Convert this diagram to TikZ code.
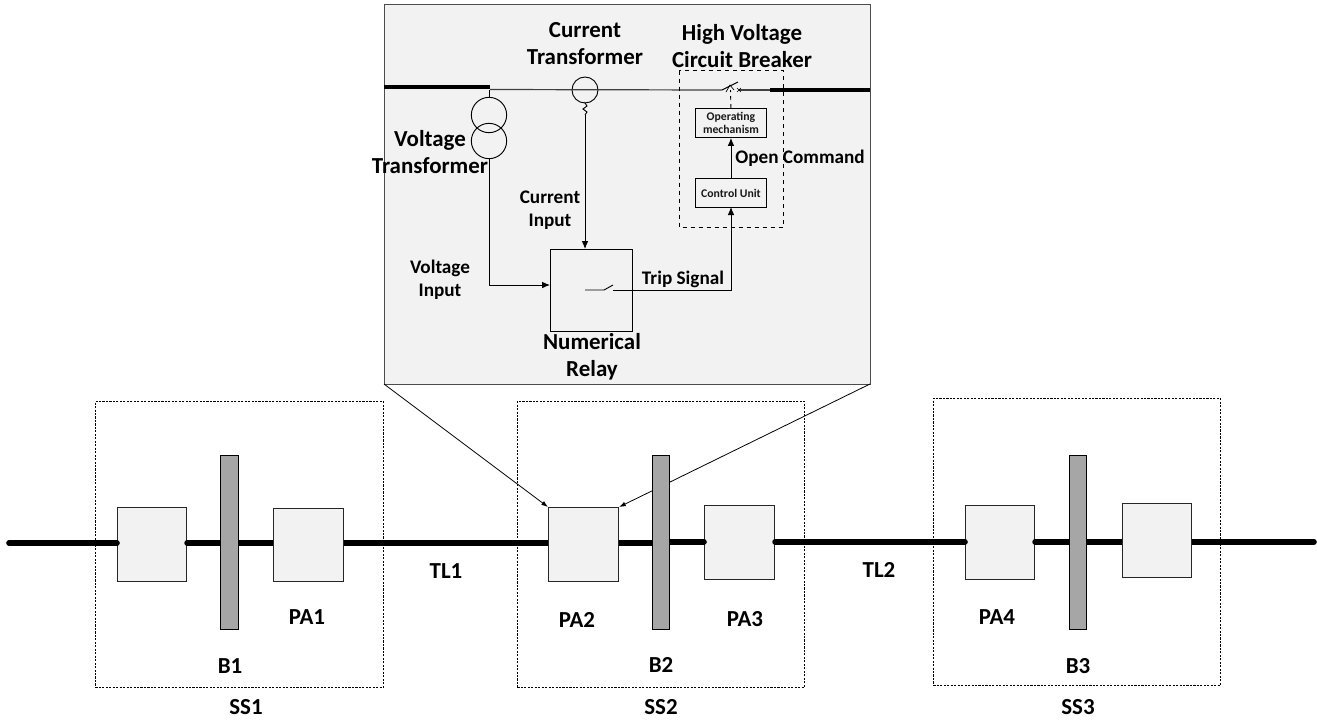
\documentclass[tikz,border=0pt]{standalone}
\usepackage{fontspec}
\setmainfont{Carlito}
\usetikzlibrary{arrows.meta}
\pgfdeclarelayer{front}
\pgfsetlayers{main,front}
\tikzset{
 x=0.75pt,y=-0.75pt,
 lbl/.style={font=\fontsize{17.2}{20.3}\selectfont\bfseries,inner sep=0pt,align=center,text=black},
 lblmid/.style={font=\fontsize{14.4}{17}\selectfont\bfseries,inner sep=0pt,align=center,text=black},
 tinyl/.style={font=\fontsize{8.8}{10}\selectfont\bfseries,inner sep=0pt,align=center,text=black!90},
 pabox/.style={draw=black!85,fill=black!5,line width=0.8pt,inner sep=0pt},
 busbar/.style={draw=black,fill=black!35,line width=0.7pt,inner sep=0pt},
 station/.style={draw=black,dash pattern=on 1.6pt off 1pt,line width=0.6pt,inner sep=0pt},
 feeder/.style={line width=4.2pt,line cap=round,black},
 thinw/.style={line width=0.7pt,black},
 wire/.style={line width=0.7pt,black,-{Latex[length=6pt,width=5pt]}},
 zoomarrow/.style={line width=0.6pt,black,-{Latex[length=5pt,width=3.5pt]}},
 sq/.style={draw=black,line width=0.7pt,inner sep=0pt},
}
\newcommand{\boxat}[6]{\node[#1,minimum width=#5*0.75pt-#3*0.75pt,minimum height=#6*0.75pt-#4*0.75pt,anchor=north west] (#2) at (#3,#4) {};}
\begin{document}
\begin{tikzpicture}
\useasboundingbox (0,0) rectangle (1317,719);
% zoom panel
\boxat{draw=black!70,fill=black!5,line width=0.8pt,inner sep=0pt}{panel}{384}{4}{870}{384}
% station frames
\boxat{station}{ssa}{95}{401}{383}{687}
\boxat{station}{ssb}{517}{401}{804}{687}
\boxat{station}{ssc}{933}{398}{1220}{685}
\coordinate (pl) at (384,384);
\coordinate (pr) at (870,384);
\coordinate (fs) at (9,543);
\coordinate (fe) at (1314,541.8);
% boxes with the feeder caps over them
\boxat{pabox}{boxa}{117}{507}{186}{581}
\boxat{pabox}{boxd}{704}{505}{774}{579}
\boxat{pabox}{boxe}{965}{505}{1034}{579}
\begin{pgfonlayer}{front}
\boxat{pabox}{boxb}{273}{508}{343}{581}
\boxat{pabox}{boxc}{548}{507}{618}{581}
\boxat{pabox}{boxf}{1122}{503}{1191}{577}
\boxat{busbar}{busa}{220}{455}{238}{629}
\boxat{busbar}{busb}{652}{455}{669}{629}
\boxat{busbar}{busc}{1069}{455}{1086}{629}
\end{pgfonlayer}
\draw[zoomarrow] (pl) -- (boxc.north west);
\draw[zoomarrow] (pr) -- (boxc.north east);
\draw[feeder] (fs) -- (boxa.west |- fs);
\draw[feeder] (boxa.east |- fs) -- (busa.west |- fs);
\draw[feeder] (busa.east |- fs) -- (boxb.west |- fs);
\draw[feeder] (boxb.east |- fs) -- (boxc.west |- fs);
\draw[feeder] (boxc.east |- fs) -- (busb.west |- fs);
\draw[feeder] (busb.east |- fe) -- (boxd.west |- fe);
\draw[feeder] (boxd.east |- fe) -- (boxe.west |- fe);
\draw[feeder] (boxe.east |- fe) -- (busc.west |- fe);
\draw[feeder] (busc.east |- fe) -- (boxf.west |- fe);
\draw[feeder] (boxf.east |- fe) -- (fe);
% lower labels
\node[lbl] (tla) at (446,571) {TL1};
\node[lbl] (tlb) at (879,570) {TL2};
\node[lbl] (paa) at (307,617) {PA1};
\node[lbl] (pab) at (577,620) {PA2};
\node[lbl] (pac) at (745,619) {PA3};
\node[lbl] (pad) at (997,617) {PA4};
\node[lbl] (ba) at (230,666) {B1};
\node[lbl] (bb) at (661,665) {B2};
\node[lbl] (bc) at (1078,666) {B3};
\node[lbl] (sa) at (246,707) {SS1};
\node[lbl] (sb) at (661,707) {SS2};
\node[lbl] (sc) at (1078,707) {SS3};
% inside panel: lines
\coordinate (la) at (384,87);
\coordinate (lb) at (490,87);
\coordinate (lc) at (490,89.5);
\coordinate (ld) at (770,90);
\coordinate (le) at (870,90);
\draw[line width=2.4pt,black] (la) -- (lb);
\draw[line width=2.4pt,black] (ld) -- (le);
\node[draw=black,line width=0.7pt,circle,minimum size=19.5pt,inner sep=0pt] (ct) at (585,90) {};
\node[draw=black,line width=0.7pt,circle,minimum size=26.5pt,inner sep=0pt] (vta) at (489,115) {};
\node[draw=black,line width=0.7pt,circle,minimum size=26.5pt,inner sep=0pt] (vtb) at (489,141) {};
\coordinate (brk) at (722,90);
\coordinate (brkb) at (739,90);
\draw[line width=0.9pt,black!75] (lc) -- (brk);
\draw[line width=0.9pt,black!75] (brkb) -- (ld);
\draw[thinw] (brk) -- (738,82);
\draw[line width=0.5pt] (737,88) -- (741,92) (741,88) -- (737,92);
\draw[line width=0.5pt] (726,92) -- (730,85) -- (734,90);
\draw[thinw] (489,89.5) -- (vta.north);
\boxat{sq}{relay}{550}{249}{632}{331}
\boxat{sq}{opm}{695}{108}{766}{137}
\boxat{sq}{ctrl}{695}{178}{766}{207}
\draw[line width=0.7pt,dashed,black] (679,70.5) rectangle (783.5,227);
\draw[line width=0.7pt,dashed,black] (opm.north) -- (730.5,90);
\draw[wire] (ctrl.north) -- (opm.south);
\node[tinyl] (opmt) at (opm.center) {Operating\\mechanism};
\node[tinyl] (ctrlt) at (ctrl.center) {Control Unit};
\coordinate (zz) at (585,103);
\coordinate (cs) at (585,115);
\draw[thinw] (ct.south) -- (zz) -- (587,106) -- (583,109) -- (587,112) -- (cs);
\draw[wire] (cs) -- (585,249);
\draw[wire] (vtb.south) -- (489,285) -- (relay.west |- 0,285);
\coordinate (swa) at (585,290);
\coordinate (swb) at (604,290);
\coordinate (swc) at (613,285);
\coordinate (swd) at (613,290);
\draw[thinw] (swa) -- (swb) -- (swc);
\draw[wire] (swd) -- (731,290) -- (731,207);
% panel labels
\node[lbl] (lcta) at (585,44) {Current\\Transformer};
\node[lbl] (lhv) at (742,46) {High Voltage\\Circuit Breaker};
\node[lbl] (lvt) at (430,152) {Voltage\\Transformer};
\node[lblmid] (lci) at (550,210) {Current\\Input};
\node[lblmid] (lvi) at (440,280) {Voltage\\Input};
\node[lblmid] (ltr) at (683,279) {Trip Signal};
\node[lbl] (lnr) at (592,357) {Numerical\\Relay};
\node[lblmid] (lop) at (800,158) {Open Command};
\end{tikzpicture}
\end{document}
